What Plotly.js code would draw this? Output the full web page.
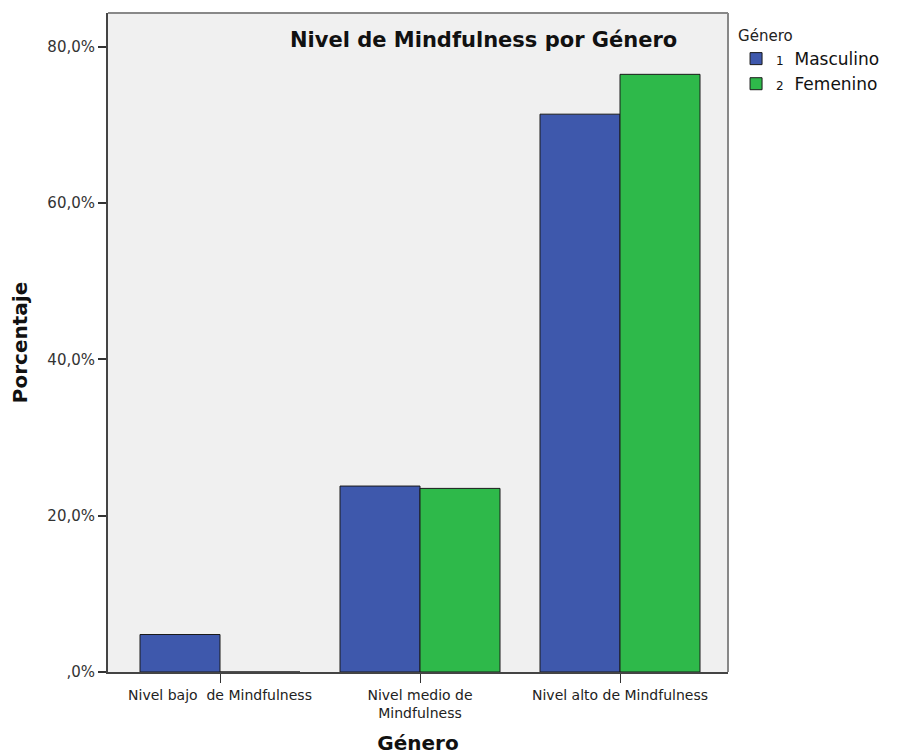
<!DOCTYPE html>
<html>
<head>
<meta charset="utf-8">
<script src="https://cdn.plot.ly/plotly-3.0.1.min.js"></script>
<style>html,body{margin:0;padding:0;background:#fff;}#chart{width:909px;height:755px;}</style>
</head>
<body>
<div id="chart"></div>
<script>
var categories = ['Nivel bajo  de Mindfulness', 'Nivel medio de<br>Mindfulness', 'Nivel alto de Mindfulness'];
var masculino = [4.8, 23.8, 71.4];
var femenino = [0, 23.5, 76.5];
var seriesNames = ['<span style="font-size:12px">1</span>  Masculino', '<span style="font-size:12px">2</span>  Femenino'];
var tickVals = [0, 20, 40, 60, 80];
var tickText = [',0%', '20,0%', '40,0%', '60,0%', '80,0%'];

var xIdx = categories.map(function(c, i){ return i; });
var F = 'DejaVu Sans, Arial, sans-serif';

var traces = [
  {type:'bar', x:xIdx, y:masculino, name:seriesNames[0],
   marker:{color:'#3e58ac', line:{color:'#1a1a1a', width:1}}, hoverinfo:'y'},
  {type:'bar', x:xIdx, y:femenino, name:seriesNames[1],
   marker:{color:'#2eb94a', line:{color:'#1a1a1a', width:1}}, hoverinfo:'y'}
];

var layout = {
  width:909, height:755,
  margin:{l:108, r:181, t:13, b:83},
  paper_bgcolor:'#ffffff', plot_bgcolor:'#f0f0f0',
  barmode:'group', bargap:0.2, bargroupgap:0,
  font:{family:F, color:'#222'},
  showlegend:true,
  legend:{x:1.013, xanchor:'left', y:0.987, yanchor:'top',
    title:{text:'Género', font:{size:15, color:'#222'}},
    font:{size:17, color:'#111'}, tracegroupgap:0, itemwidth:30, bgcolor:'rgba(0,0,0,0)'},
  annotations:[{text:'<b>Nivel de Mindfulness por Género</b>', xref:'paper', yref:'paper',
    x:0.605, y:0.959, xanchor:'center', yanchor:'middle', showarrow:false,
    font:{size:21, color:'#111', family:F}}],
  xaxis:{range:[-0.56, 2.54], tickvals:xIdx, ticktext:categories,
    ticks:'outside', ticklen:9, tickcolor:'#333', tickwidth:1,
    showline:true, linecolor:'#444', linewidth:2, showgrid:false, zeroline:false,
    tickfont:{size:14, color:'#222'},
    title:{text:'<b>Género</b>', font:{size:20, color:'#111'}, standoff:16}},
  yaxis:{range:[0, 84.35], tickvals:tickVals, ticktext:tickText,
    ticks:'outside', ticklen:8, tickcolor:'#333', tickwidth:2,
    showline:true, linecolor:'#444', linewidth:2, showgrid:false, zeroline:false,
    tickfont:{size:15, color:'#333'},
    title:{text:'<b>Porcentaje</b>', font:{size:20, color:'#111'}, standoff:14}},
  shapes:[
    {type:'line', xref:'paper', yref:'paper', x0:0, x1:1, y0:1, y1:1, line:{color:'#888', width:2}},
    {type:'line', xref:'paper', yref:'paper', x0:1, x1:1, y0:0, y1:1, line:{color:'#888', width:2}}
  ]
};

Plotly.newPlot('chart', traces, layout, {displayModeBar:false, staticPlot:true});
</script>
</body>
</html>
